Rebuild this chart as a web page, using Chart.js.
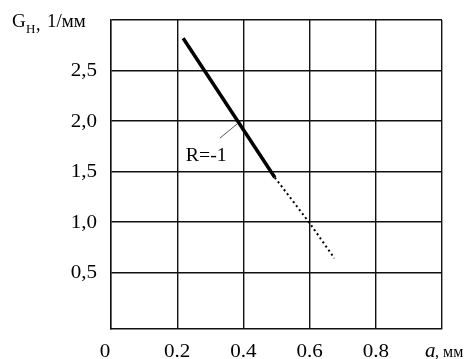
<!DOCTYPE html>
<html>
<head>
<meta charset="utf-8">
<script src="https://cdn.jsdelivr.net/npm/chart.js@4.4.1/dist/chart.umd.min.js"></script>
<style>
  html, body { margin: 0; padding: 0; background: #fff; }
  #wrap { width: 473px; height: 359px; position: relative; }
</style>
</head>
<body>
<div id="wrap"><canvas id="chart"></canvas></div>
<script>
// values
const solidX = [0.218, 0.495];
const solidY = [2.82, 1.44];
const dottedX = [0.495, 0.6, 0.675];
const dottedY = [1.44, 0.99, 0.64];
const leaderX = [0.329, 0.381];
const leaderY = [1.83, 1.97];

const xTicks = [0, 0.2, 0.4, 0.6, 0.8, 1.0];
const xTickLabels = ['0', '0.2', '0.4', '0.6', '0.8', ''];
const yTicks = [0.5, 1.0, 1.5, 2.0, 2.5, 3.0];
const yTickLabels = ['0,5', '1,0', '1,5', '2,0', '2,5', ''];

const serif = "'Liberation Serif', 'Times New Roman', serif";
const toPts = (xs, ys) => xs.map((x, i) => ({ x, y: ys[i] }));

// text in the scan is a bit wider than the font, so stretch it sideways
function wideText(ctx, text, x, y, align, sx) {
  const w = ctx.measureText(text).width * sx;
  let left = x;
  if (align === 'right') left = x - w;
  else if (align === 'center') left = x - w / 2;
  ctx.save();
  ctx.translate(left, y);
  ctx.scale(sx, 1);
  ctx.textAlign = 'left';
  ctx.fillText(text, 0, 0);
  ctx.restore();
}

const labelsPlugin = {
  id: 'labels',
  afterDraw(chart) {
    const { ctx, scales: { x, y } } = chart;
    ctx.save();
    ctx.fillStyle = '#000';
    ctx.textBaseline = 'alphabetic';

    // y tick labels
    ctx.font = '18px ' + serif;
    yTicks.forEach((v, i) => {
      if (yTickLabels[i]) wideText(ctx, yTickLabels[i], 97, y.getPixelForValue(v) + 6, 'right', 1.17);
    });

    // x tick labels
    xTicks.forEach((v, i) => {
      if (!xTickLabels[i]) return;
      const px = x.getPixelForValue(v) - (v === 0 ? 6 : 0);
      wideText(ctx, xTickLabels[i], px, 357, 'center', 1.17);
    });

    // x axis title
    ctx.textAlign = 'left';
    ctx.font = 'italic 21px ' + serif;
    ctx.fillText('a', 425, 357);
    ctx.font = '16px ' + serif;
    ctx.fillText(', мм', 435, 357);

    // y axis title
    ctx.font = '19px ' + serif;
    ctx.fillText('G', 12, 27);
    ctx.font = '13px ' + serif;
    ctx.fillText('H', 26, 33);
    ctx.font = '18px ' + serif;
    ctx.fillText(',', 36, 30);
    wideText(ctx, '1/мм', 47, 27, 'left', 1.05);

    // annotation
    ctx.font = '18px ' + serif;
    wideText(ctx, 'R=-1', x.getPixelForValue(0.226), y.getPixelForValue(1.67) + 7, 'left', 1.1);
    ctx.restore();
  }
};

new Chart(document.getElementById('chart'), {
  type: 'scatter',
  data: {
    datasets: [
      {
        data: toPts(solidX, solidY),
        showLine: true,
        borderColor: '#000',
        borderWidth: 3.5,
        pointRadius: 0,
      },
      {
        data: toPts(dottedX, dottedY),
        showLine: true,
        borderColor: '#000',
        borderWidth: 2,
        borderDash: [2, 3],
        pointRadius: 0,
      },
      {
        data: toPts(leaderX, leaderY),
        showLine: true,
        borderColor: '#555',
        borderWidth: 1,
        pointRadius: 0,
      },
    ],
  },
  options: {
    responsive: true,
    maintainAspectRatio: false,
    animation: false,
    layout: { padding: { left: 111, right: 31, top: 20, bottom: 30 } },
    plugins: { legend: { display: false }, tooltip: { enabled: false } },
    scales: {
      x: {
        type: 'linear',
        min: 0,
        max: 1.0,
        afterBuildTicks: axis => { axis.ticks = xTicks.map(v => ({ value: v })); },
        ticks: { display: false },
        grid: { color: '#111', lineWidth: 1.4, drawTicks: false },
        border: { color: '#111', width: 1.4 },
      },
      y: {
        type: 'linear',
        min: -0.06,
        max: 3.0,
        afterBuildTicks: axis => { axis.ticks = yTicks.map(v => ({ value: v })); },
        ticks: { display: false },
        grid: { color: '#111', lineWidth: 1.4, drawTicks: false },
        border: { color: '#111', width: 1.4 },
      },
    },
  },
  plugins: [labelsPlugin],
});
</script>
</body>
</html>
